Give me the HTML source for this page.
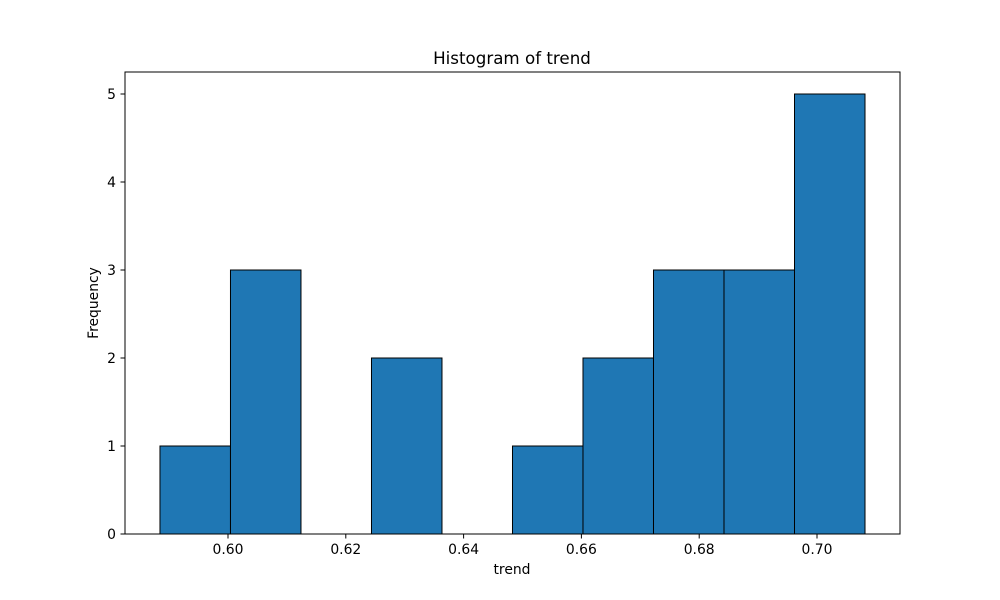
<!DOCTYPE html>
<html>
<head>
<meta charset="utf-8">
<style>
  html, body { margin: 0; padding: 0; background: #fff; }
  svg { display: block; font-family: "DejaVu Sans", "Liberation Sans", sans-serif; }
</style>
</head>
<body>
<svg id="chart" width="1000" height="600" viewBox="0 0 1000 600">
  <text x="512" y="64" text-anchor="middle" font-size="16.7">Histogram of trend</text>
  <text x="512" y="574" text-anchor="middle" font-size="13.9">trend</text>
  <text x="98" y="303" text-anchor="middle" font-size="13.9" transform="rotate(-90 98 303)">Frequency</text>
  <g id="bars"></g>
  <g id="xticks"></g>
  <g id="yticks"></g>
  <rect x="125" y="72" width="775" height="462" fill="none" stroke="#000" stroke-width="1"/>
</svg>
<script>
const binStart = 0.58845;
const binWidth = 0.011970;
const counts = [1, 3, 0, 2, 0, 1, 2, 3, 3, 5];
const xTickValues = [0.60, 0.62, 0.64, 0.66, 0.68, 0.70];
const xTickLabels = ["0.60", "0.62", "0.64", "0.66", "0.68", "0.70"];
const yTickValues = [0, 1, 2, 3, 4, 5];

const NS = "http://www.w3.org/2000/svg";
function xScale(v) { return 228 + (v - 0.60) * 5890; }
function yScale(v) { return 534 - v * 88; }
function mk(tag, attrs) {
  const e = document.createElementNS(NS, tag);
  for (const k in attrs) e.setAttribute(k, attrs[k]);
  return e;
}
const bars = document.getElementById("bars");
counts.forEach((c, i) => {
  if (c <= 0) return;
  const x0 = xScale(binStart + i * binWidth);
  const x1 = xScale(binStart + (i + 1) * binWidth);
  const r = mk("rect", { x: x0, y: yScale(c), width: x1 - x0, height: yScale(0) - yScale(c), fill: "#1f77b4", stroke: "#000", "stroke-width": 1 });
  
  
  bars.appendChild(r);
});
const xt = document.getElementById("xticks");
xTickValues.forEach((v, i) => {
  const x = xScale(v);
  const l = mk("line", { x1: x, x2: x, y1: 534, y2: 538.5, stroke: "#000", "stroke-width": 1 });
  
  
  xt.appendChild(l);
  const t = mk("text", { x: x, y: 554, "text-anchor": "middle", "font-size": 13.9 });
  t.textContent = xTickLabels[i];
  
  
  xt.appendChild(t);
});
const yt = document.getElementById("yticks");
yTickValues.forEach(v => {
  const y = yScale(v);
  const l = mk("line", { x1: 120.5, x2: 125, y1: y, y2: y, stroke: "#000", "stroke-width": 1 });
  
  
  yt.appendChild(l);
  const t = mk("text", { x: 116, y: y + 5, "text-anchor": "end", "font-size": 13.9 });
  t.textContent = String(v);
  
  
  yt.appendChild(t);
});
</script>
</body>
</html>
